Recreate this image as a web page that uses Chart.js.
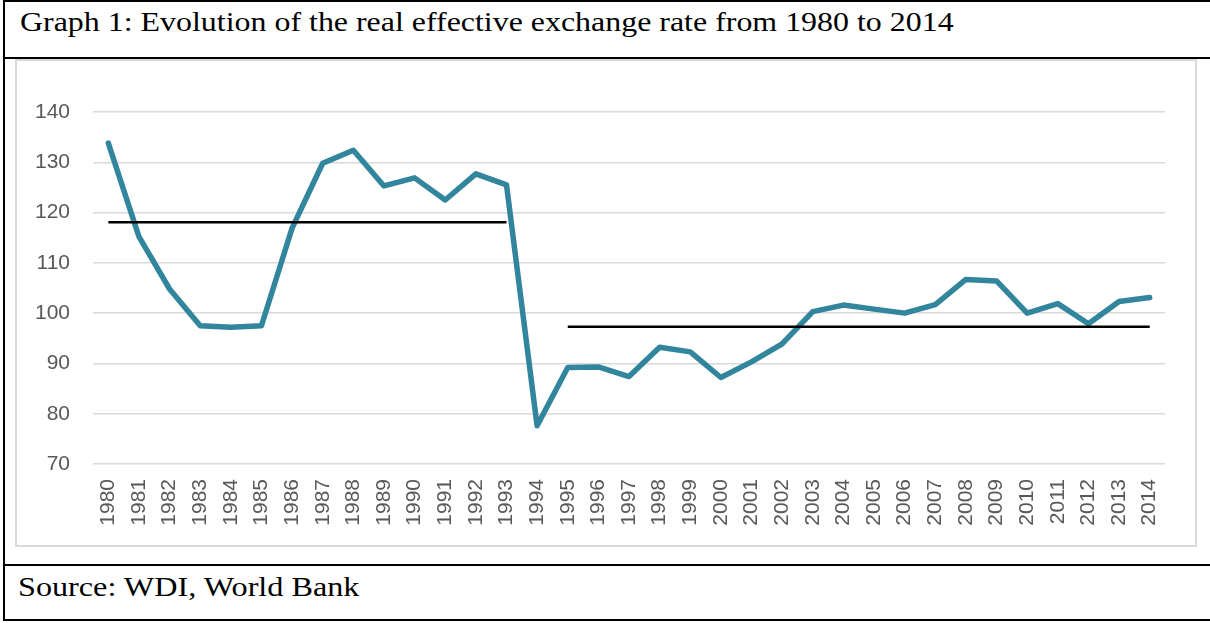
<!DOCTYPE html>
<html>
<head>
<meta charset="utf-8">
<script src="https://cdn.jsdelivr.net/npm/chart.js@4.4.1/dist/chart.umd.min.js"></script>
<style>
  html, body { margin: 0; padding: 0; background: #fff; }
  body { width: 1210px; height: 623px; position: relative; overflow: hidden; }
  .outer { position: absolute; left: 3px; top: 0; width: 1210px; height: 621px; box-sizing: border-box;
           border-left: 2px solid #000; border-top: 2px solid #000; border-bottom: 2px solid #000; }
  .hline { position: absolute; left: 3px; width: 1207px; height: 2px; background: #000; }
  .txt { position: absolute; font-family: "Liberation Serif", "Times New Roman", serif; font-size: 28px; color: #000; white-space: nowrap; line-height: 1; transform-origin: 0 0; }
  .frame { position: absolute; left: 15px; top: 59px; width: 1182px; height: 488px; box-sizing: border-box; border: 2px solid #d9d9d9; }
  .wrap { position: absolute; left: 17px; top: 60px; width: 1176px; height: 484px; }
</style>
</head>
<body>
<div class="outer"></div>
<div class="hline" style="top:57px"></div>
<div class="hline" style="top:564px"></div>
<div class="txt" id="title" style="left:20px; top:8px; transform: scaleX(1.14);">Graph 1: Evolution of the real effective exchange rate from 1980 to 2014</div>
<div class="txt" id="source" style="left:18px; top:573px; transform: scaleX(1.15);">Source: WDI, World Bank</div>
<div class="frame"></div>
<div class="wrap"><canvas id="c"></canvas></div>
<script>
const years = ['1980','1981','1982','1983','1984','1985','1986','1987','1988','1989','1990','1991','1992','1993','1994','1995','1996','1997','1998','1999','2000','2001','2002','2003','2004','2005','2006','2007','2008','2009','2010','2011','2012','2013','2014'];
const reer = [133.8,115.2,104.8,97.5,97.2,97.5,116.9,129.8,132.4,125.3,126.9,122.5,127.7,125.5,77.6,89.2,89.3,87.4,93.2,92.3,87.2,90.3,93.9,100.3,101.6,100.8,100.0,101.7,106.7,106.4,100.0,101.9,97.9,102.3,103.1];
const meanPeriod1 = [118.1,118.1,118.1,118.1,118.1,118.1,118.1,118.1,118.1,118.1,118.1,118.1,118.1,118.1,null,null,null,null,null,null,null,null,null,null,null,null,null,null,null,null,null,null,null,null,null];
const meanPeriod2 = [null,null,null,null,null,null,null,null,null,null,null,null,null,null,null,97.3,97.3,97.3,97.3,97.3,97.3,97.3,97.3,97.3,97.3,97.3,97.3,97.3,97.3,97.3,97.3,97.3,97.3,97.3,97.3];
const yTicks = [70,80,90,100,110,120,130,140];

new Chart(document.getElementById('c'), {
  type: 'line',
  data: {
    labels: years,
    datasets: [
      { label: 'Mean 1980-1993', data: meanPeriod1, borderColor: '#000', borderWidth: 2.5, pointRadius: 0, spanGaps: false, order: 0, borderCapStyle: 'butt' },
      { label: 'Mean 1995-2014', data: meanPeriod2, borderColor: '#000', borderWidth: 2.5, pointRadius: 0, spanGaps: false, order: 0, borderCapStyle: 'butt' },
      { label: 'REER', data: reer, borderColor: '#31859C', borderWidth: 5.5, pointRadius: 0, tension: 0, order: 1, borderCapStyle: 'round', borderJoinStyle: 'round' }
    ]
  },
  options: {
    responsive: true,
    maintainAspectRatio: false,
    animation: false,
    events: [],
    layout: { padding: { top: 52, right: 28, bottom: 0, left: 0 } },
    plugins: { legend: { display: false }, tooltip: { enabled: false } },
    scales: {
      x: {
        offset: true,
        grid: { display: false, drawTicks: false },
        border: { display: false },
        ticks: { maxRotation: 90, minRotation: 90, autoSkip: false, padding: 15, color: '#595959', font: { family: 'Liberation Sans', size: 21 } },
        afterFit: (s) => { s.height = 80; }
      },
      y: {
        min: 70, max: 140,
        afterBuildTicks: (s) => { s.ticks = yTicks.map(v => ({ value: v })); },
        grid: { color: '#d9d9d9', lineWidth: 1.5, drawTicks: false },
        border: { display: false },
        ticks: { padding: 23, color: '#595959', font: { family: 'Liberation Sans', size: 21 } },
        afterFit: (s) => { s.width = 76; }
      }
    }
  }
});
</script>
</body>
</html>
